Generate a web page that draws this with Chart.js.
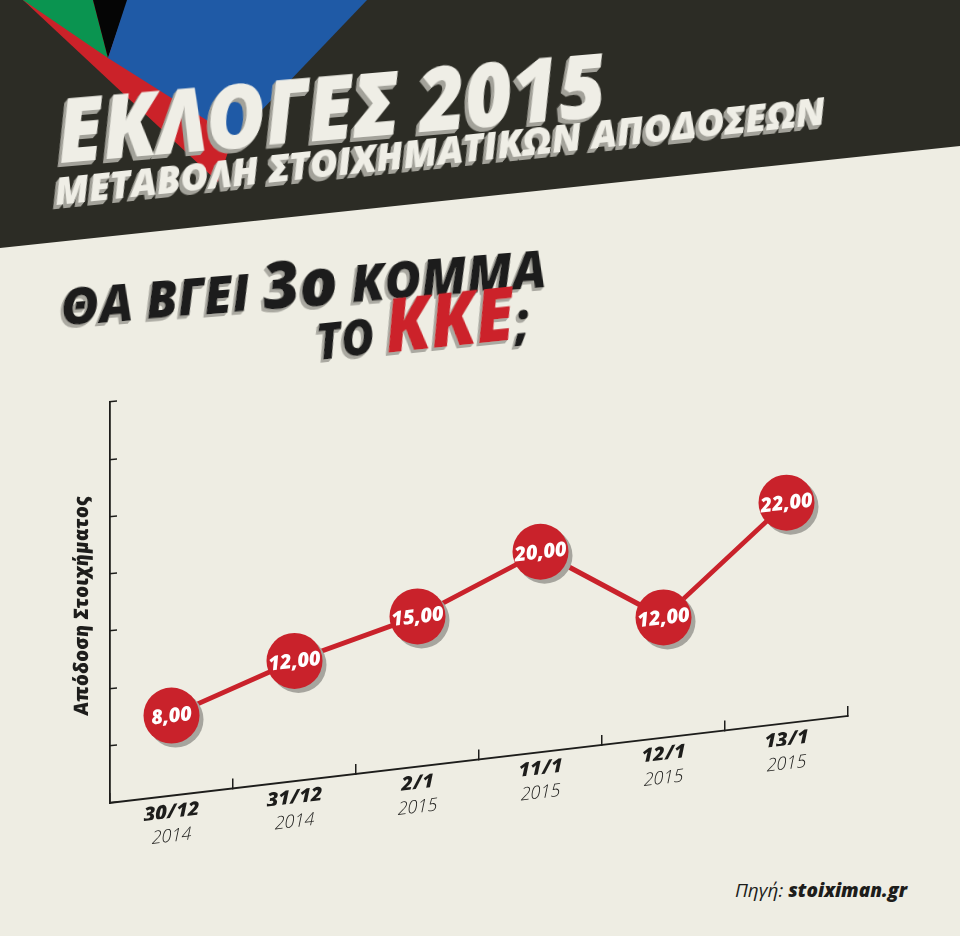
<!DOCTYPE html>
<html>
<head>
<meta charset="utf-8">
<script src="https://cdn.jsdelivr.net/npm/chart.js@4.4.1/dist/chart.umd.min.js"></script>
<style>
    html, body { margin: 0; padding: 0; background: #eeede3; }
    #page { position: relative; width: 960px; height: 936px; overflow: hidden; }
    #art, #chart { position: absolute; left: 0; top: 0; }
</style>
</head>
<body>
<div id="page">
<svg id="art" width="960" height="936" viewBox="0 0 960 936">
    <defs>
        <filter id="extrude" x="-10%" y="-30%" width="120%" height="160%">
            <feFlood flood-color="#a3a29a" result="c"/>
            <feComposite in="c" in2="SourceAlpha" operator="in" result="s"/>
            <feOffset in="s" dx="-1" dy="1" result="s1"/>
            <feOffset in="s" dx="-2" dy="2" result="s2"/>
            <feOffset in="s" dx="-3" dy="3" result="s3"/>
            <feOffset in="s" dx="-4" dy="4" result="s4"/>
            <feMerge>
                <feMergeNode in="s4"/><feMergeNode in="s3"/><feMergeNode in="s2"/><feMergeNode in="s1"/>
                <feMergeNode in="SourceGraphic"/>
            </feMerge>
        </filter>
        <filter id="extrudeDark" x="-10%" y="-30%" width="120%" height="160%">
            <feFlood flood-color="#aaa9a1" result="c"/>
            <feComposite in="c" in2="SourceAlpha" operator="in" result="s"/>
            <feOffset in="s" dx="-1" dy="1" result="s1"/>
            <feOffset in="s" dx="-2" dy="2" result="s2"/>
            <feOffset in="s" dx="-3" dy="3" result="s3"/>
            <feMerge>
                <feMergeNode in="s3"/><feMergeNode in="s2"/><feMergeNode in="s1"/>
                <feMergeNode in="SourceGraphic"/>
            </feMerge>
        </filter>
    </defs>
    <rect width="960" height="936" fill="#eeede3"/>
    <!-- header band + party colour triangles -->
    <polygon points="0,0 960,0 960,146 0,248" fill="#2c2c25"/>
    <polygon points="23,0 128,0 233,137 218,182" fill="#cb2229"/>
    <polygon points="23,0 93,0 108,58" fill="#0a9450"/>
    <polygon points="93,0 128,0 108,58" fill="#050505"/>
    <polygon points="108,58 127,0 367,0 235,138" fill="#1f5aa6"/>

    <g font-family="Open Sans, sans-serif" font-style="italic" font-weight="800">
        <text x="60" y="163" transform="rotate(-4.9 60 163)" font-size="88" fill="#efeee6"
              filter="url(#extrude)" textLength="550" lengthAdjust="spacingAndGlyphs">ΕΚΛΟΓΕΣ 2015</text>
        <text x="56" y="205" transform="rotate(-6 56 205)" font-size="37" fill="#efeee6"
              filter="url(#extrude)" textLength="775" lengthAdjust="spacingAndGlyphs">ΜΕΤΑΒΟΛΗ ΣΤΟΙΧΗΜΑΤΙΚΩΝ ΑΠΟΔΟΣΕΩΝ</text>

        <text x="62" y="326" transform="rotate(-4.6 62 326)" font-size="52" fill="#1d1d1b"
              filter="url(#extrudeDark)" textLength="487" lengthAdjust="spacingAndGlyphs">ΘΑ ΒΓΕΙ <tspan font-size="66">3ο</tspan> ΚΟΜΜΑ</text>
        <text x="318" y="360" transform="rotate(-6 318 360)" font-size="49" fill="#1d1d1b"
              filter="url(#extrudeDark)" textLength="214" lengthAdjust="spacingAndGlyphs">ΤΟ <tspan font-size="74" fill="#cc2229">ΚΚΕ</tspan><tspan font-size="52">;</tspan></text>
    </g>

    <text x="907" y="897" text-anchor="end" font-family="Open Sans, sans-serif" font-style="italic"
          font-size="19" fill="#1d1d1b"><tspan font-weight="400">Πηγή: </tspan><tspan font-weight="800">stoiximan.gr</tspan></text>
</svg>
<canvas id="chart" width="960" height="936"></canvas>
</div>

<script>
// data
const dayLabels = ['30/12', '31/12', '2/1', '11/1', '12/1', '13/1'];
const yearLabels = ['2014', '2014', '2015', '2015', '2015', '2015'];
const oddsValues = [8, 12, 15, 20, 12, 22];
const yMin = 0;
const yMax = 40;
const yTickCount = 8;
const yTitle = 'Απόδοση Στοιχήματος';

const red = '#c9222b';
const ink = '#1d1d1b';
const skew = 87 / 738;   // the whole plot leans up to the right

// shear scales + line, then draw round markers upright on top
const shearPlugin = {
    id: 'shear',
    beforeDraw(chart) {
        const ctx = chart.ctx;
        ctx.save();
        ctx.transform(1, -skew, 0, 1, 0, skew * chart.chartArea.left);
    },
    afterDatasetsDraw(chart) {
        const ctx = chart.ctx;
        ctx.restore();
        const x0 = chart.chartArea.left;
        const meta = chart.getDatasetMeta(0);
        meta.data.forEach((pt, i) => {
            const x = pt.x;
            const y = pt.y - skew * (pt.x - x0);
            ctx.beginPath();
            ctx.arc(x + 4, y + 4, 28, 0, Math.PI * 2);
            ctx.fillStyle = '#a6a59e';
            ctx.fill();
            ctx.beginPath();
            ctx.arc(x, y, 28, 0, Math.PI * 2);
            ctx.fillStyle = red;
            ctx.fill();

            ctx.save();
            ctx.translate(x, y);
            ctx.rotate(-Math.atan(skew));
            ctx.fillStyle = '#ffffff';
            ctx.font = "italic 800 20px 'Open Sans'";
            ctx.textAlign = 'center';
            ctx.textBaseline = 'middle';
            ctx.fillText(oddsValues[i].toFixed(2).replace('.', ','), 0, 1);
            ctx.restore();
        });
    }
};

const ctx = document.getElementById('chart').getContext('2d');
new Chart(ctx, {
    type: 'line',
    data: {
        labels: dayLabels,
        datasets: [{
            data: oddsValues,
            borderColor: red,
            borderWidth: 5,
            pointRadius: 0,
            tension: 0,
            fill: false,
            clip: false
        }]
    },
    options: {
        responsive: false,
        animation: false,
        devicePixelRatio: 1,
        layout: { padding: { left: 60, right: 112, top: 402, bottom: 81 } },
        plugins: {
            legend: { display: false },
            tooltip: { enabled: false }
        },
        scales: {
            x: {
                type: 'category',
                offset: true,
                weight: 0,
                grid: { drawOnChartArea: false, drawTicks: true, tickLength: -10, offset: true, color: ink, lineWidth: 1.5 },
                border: { display: true, color: ink, width: 1.8 },
                ticks: {
                    color: ink,
                    padding: 15,
                    maxRotation: 0,
                    font: { family: 'Open Sans', size: 20, weight: 800, style: 'italic' }
                },
                afterFit: s => { s.height = 22; }
            },
            x2: {
                type: 'category',
                position: 'bottom',
                labels: yearLabels,
                offset: true,
                weight: 1,
                min: 0,
                max: yearLabels.length - 1,
                grid: { display: false },
                border: { display: false },
                ticks: {
                    color: ink,
                    padding: 0,
                    maxRotation: 0,
                    font: { family: 'Open Sans', size: 18, weight: 300, style: 'italic' }
                },
                afterFit: s => { s.height = 30; }
            },
            y: {
                min: yMin,
                max: yMax,
                grid: { drawOnChartArea: false, drawTicks: true, tickLength: -7, color: ink, lineWidth: 1.5 },
                border: { display: true, color: ink, width: 1.8 },
                ticks: { display: false, count: yTickCount },
                title: {
                    display: true,
                    text: yTitle,
                    color: ink,
                    padding: { top: 10, bottom: 0 },
                    font: { family: 'Open Sans', size: 20, weight: 800, style: 'italic' }
                },
                afterFit: s => { s.width = 50; }
            }
        }
    },
    plugins: [shearPlugin]
});
</script>
</body>
</html>
